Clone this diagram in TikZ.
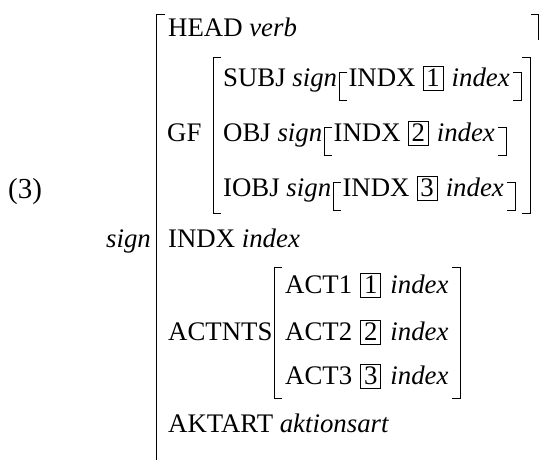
\documentclass[tikz,border=0pt]{standalone}
\usepackage{fontspec}
\setmainfont{Liberation Serif}
\usetikzlibrary{calc}
\begin{document}
\begin{tikzpicture}[x=1pt,y=-1pt,
  txt/.style={inner sep=0pt, anchor=base west, font=\fontsize{26.8}{30}\selectfont},
  tag/.style={txt, draw, line width=0.8pt, inner xsep=3.3pt, inner ysep=1.5pt,
              text height=17.8pt, text depth=3pt},
  brk/.style={line width=0.9pt}]
\useasboundingbox (0,0) rectangle (543,460);

% example number and the type of the whole structure
\node[txt, font=\fontsize{29}{32}\selectfont] (ex) at (8,198) {(3)};
\node[txt, anchor=base east] (outer) at (151,247) {\textit{sign}};

% outer matrix brackets
\draw[brk] (165,14) -| (156,463);
\draw[brk] (531,14) -| (538,40);

% HEAD
\node[txt] (head) at (168,37) {HEAD \textit{verb}};

% GF with its three embedded signs
\node[txt] (gf) at (167,141) {GF};
\draw[brk] (221,57) -| (213,213) -- (221,213);
\draw[brk] (522,57) -| (530,213) -- (522,213);
\foreach \nm/\lab/\yy/\n in {subj/SUBJ/86/1, obj/OBJ/141/2, iobj/IOBJ/196/3}{
  \node[txt] (\nm) at (223,\yy) {\lab\ \textit{sign}};
  \coordinate (\nm-l) at ($(\nm.base east)+(2,0)$);
  \node[txt] (\nm-x) at ($(\nm-l)+(9,0)$) {INDX};
  \node[tag] (\nm-t) at ($(\nm-x.base east)+(7,0)$) {\n};
  \node[txt] (\nm-i) at ($(\nm-t.base east)+(8,0)$) {\textit{index}};
  \coordinate (\nm-r) at ($(\nm-i.base east)+(11,0)$);
  \draw[brk] ($(\nm-l)+(8,-14)$) -| ($(\nm-l)+(0,14)$) -- ($(\nm-l)+(8,14)$);
  \draw[brk] ($(\nm-r)+(-8,-14)$) -| ($(\nm-r)+(0,14)$) -- ($(\nm-r)+(-8,14)$);
}

% INDX
\node[txt] (indx) at (168,247) {INDX \textit{index}};

% ACTNTS
\node[txt] (actnts) at (168,340) {ACTNTS};
\draw[brk] (282,267) -| (274,398) -- (282,398);
\draw[brk] (452,267) -| (460,398) -- (452,398);
\foreach \n/\yy in {1/293, 2/340, 3/384}{
  \node[txt] (act\n) at (285,\yy) {ACT\n};
  \node[tag] (act\n-t) at ($(act\n.base east)+(8,0)$) {\n};
  \node[txt] (act\n-i) at ($(act\n-t.base east)+(9,0)$) {\textit{index}};
}

% AKTART
\node[txt] (akt) at (168,432) {AKTART \textit{aktionsart}};
\end{tikzpicture}
\end{document}
